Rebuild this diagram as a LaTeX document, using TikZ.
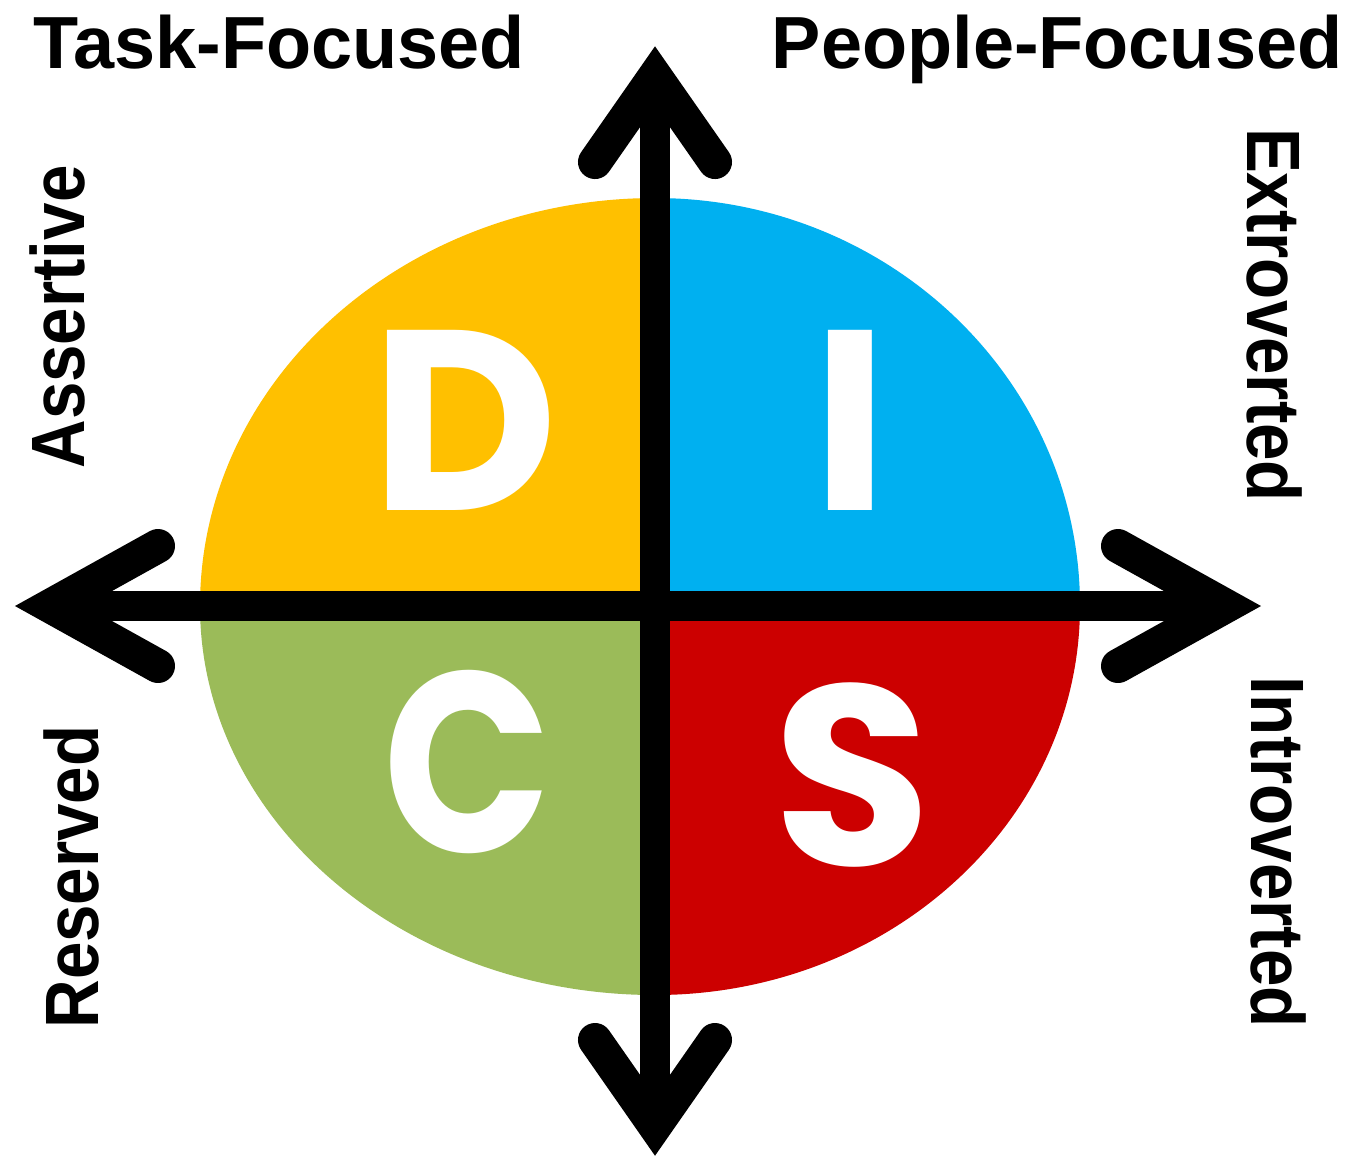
\documentclass[tikz,border=0pt]{standalone}
\usepackage{fontspec}
\setmainfont{Liberation Sans}
\newfontfamily\discfont{Poppins}
\definecolor{discY}{HTML}{FFC000}
\definecolor{discB}{HTML}{00B0F0}
\definecolor{discG}{HTML}{9BBB59}
\definecolor{discR}{HTML}{CC0000}
\tikzset{
  axisline/.style={line width=3mm, black},
  headline/.style={line width=3.4mm, black, line join=miter, miter limit=10, line cap=round},
  toplab/.style={inner sep=0pt, font=\fontsize{21pt}{21pt}\selectfont\bfseries},
  sidelab/.style={inner sep=0pt, font=\fontsize{21.5pt}{21.5pt}\selectfont\bfseries},
  letter/.style={inner sep=0pt, text=white, font=\discfont\fontsize{73pt}{73pt}\selectfont\bfseries},
}
\newcommand{\narrowtext}[1]{\scalebox{0.89}[1]{#1}}
\begin{document}
\begin{tikzpicture}[x=0.01cm, y=-0.01cm]
\fill[white] (0,0) rectangle (1357,1159);
\useasboundingbox (0,0) rectangle (1357,1159);
\coordinate (ctr) at (655,606);
% quadrants
\begin{scope}
  \clip (ctr) rectangle (0,0);
  \fill[discY] (ctr) ellipse [x radius=455, y radius=408];
\end{scope}
\begin{scope}
  \clip (ctr) rectangle (1357,0);
  \fill[discB] (ctr) ellipse [x radius=425, y radius=408];
\end{scope}
\begin{scope}
  \clip (ctr) rectangle (0,1159);
  \fill[discG] (ctr) ellipse [x radius=455, y radius=389];
\end{scope}
\begin{scope}
  \clip (ctr) rectangle (1357,1159);
  \fill[discR] (ctr) ellipse [x radius=425, y radius=389];
\end{scope}
% letters
\node[letter] (D) at (465,420) {D};
\node[letter] (I) at (850,420) {I};
\node[letter] (C) at (468,762) {\scalebox{0.86}[1]{C}};
\node[letter] (S) at (852,775) {S};
% axes
\coordinate (up) at (655,76);
\coordinate (down) at (655,1126);
\coordinate (lft) at (50,606);
\coordinate (rgt) at (1226,606);
\coordinate (upA) at (595,162);
\coordinate (upB) at (715,162);
\coordinate (downA) at (595,1040);
\coordinate (downB) at (715,1040);
\coordinate (lftA) at (158,546);
\coordinate (lftB) at (158,666);
\coordinate (rgtA) at (1118,546);
\coordinate (rgtB) at (1118,666);
\draw[axisline] (up) -- (down);
\draw[axisline] (lft) -- (rgt);
\draw[headline] (upA) -- (up) -- (upB);
\draw[headline] (downA) -- (down) -- (downB);
\draw[headline] (lftA) -- (lft) -- (lftB);
\draw[headline] (rgtA) -- (rgt) -- (rgtB);
% labels
\node[toplab, anchor=base west] (task) at (33,68) {Task-Focused};
\node[toplab, anchor=base east] (people) at (1343,68) {People-Focused};
\node[sidelab, anchor=base, rotate=90] (assert) at (84,317) {\narrowtext{Assertive}};
\node[sidelab, anchor=base, rotate=90] (reserv) at (98,877) {\narrowtext{Reserved}};
\node[sidelab, anchor=base, rotate=-90] (extro) at (1247,315) {\narrowtext{Extroverted}};
\node[sidelab, anchor=base, rotate=-90] (intro) at (1251,852) {\narrowtext{Introverted}};
\end{tikzpicture}
\end{document}
